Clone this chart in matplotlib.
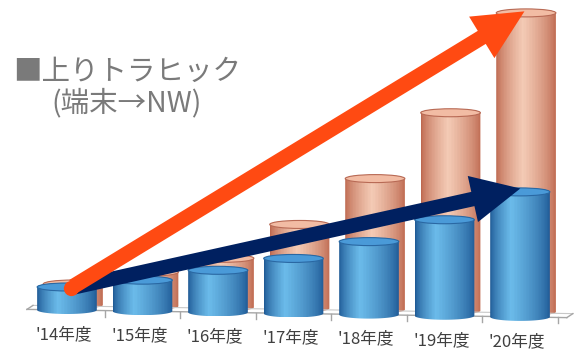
import matplotlib.pyplot as plt
import numpy as np
from matplotlib.patches import Ellipse, Polygon, FancyArrowPatch

plt.rcParams['font.family'] = ['Noto Sans CJK JP', 'DejaVu Sans']

# data (arbitrary units)
years = ["'14年度", "'15年度", "'16年度", "'17年度", "'18年度", "'19年度", "'20年度"]
uplink = [23, 31, 42, 55, 73, 96, 125]        # front (blue)
downlink = [21, 34, 49, 84, 131, 198, 299]    # back (salmon)

# look of the pseudo-3D scene
W = 0.79          # cylinder width (category units)
EH = 8            # ellipse height
BASE = 40         # floor height at first category
SLANT = 1.15      # floor drop per category
BACK_DX, BACK_DY = 0.08, 5


def gradient(edge, mid, n=120, peak=0.38):
    t = np.linspace(0, 1, n)
    w = np.where(t < peak, t / peak, (1 - t) / (1 - peak)) ** 0.7
    edge = np.array(edge) / 255
    mid = np.array(mid) / 255
    img = edge[None, :] * (1 - w[:, None]) + mid[None, :] * w[:, None]
    stripes = 1 - 0.07 * (np.arange(n) % 3 == 0)
    return np.clip(img * stripes[:, None], 0, 1)[None, :, :]


def cylinder(ax, xc, bottom, h, body, cap, capedge, z):
    top = bottom + h
    t = np.linspace(0, np.pi, 60)
    upper = np.c_[xc - W / 2 * np.cos(t), top + EH / 2 * np.sin(t)]
    lower = np.c_[xc + W / 2 * np.cos(t), bottom - EH / 2 * np.sin(t)]
    poly = Polygon(np.vstack([upper, lower]), closed=True, facecolor='none',
                   edgecolor='none', transform=ax.transData)
    ax.add_patch(poly)
    im = ax.imshow(body, extent=[xc - W / 2, xc + W / 2, bottom - EH / 2, top + EH / 2],
                   aspect='auto', zorder=z, interpolation='bilinear')
    im.set_clip_path(poly)
    ax.add_patch(Ellipse((xc, top), W, EH, facecolor=cap, edgecolor=capedge,
                         lw=0.8, zorder=z + 0.1))


fig = plt.figure(figsize=(5.83, 3.5), dpi=100)
ax = fig.add_axes([0, 0, 1, 1])
ax.set_xlim(-0.887, 6.834)
ax.set_ylim(0, 350)
ax.axis('off')

x = np.arange(len(years))
base = BASE - SLANT * x

salmon_img = gradient((194, 106, 80), (250, 208, 186), peak=0.45)
blue_img = gradient((30, 90, 152), (110, 192, 240), peak=0.35)

for i in x:
    cylinder(ax, i + BACK_DX, base[i] + BACK_DY, downlink[i], salmon_img,
             '#f2bca4', '#b86a55', 1)

# floor
fx = np.array([-0.53, 6.62])
fy = BASE - SLANT * fx
ax.plot(fx, fy, color='#a6a6a6', lw=1.0, zorder=2)
ax.plot(fx + 0.08, fy + 4, color='#c8c8c8', lw=0.8, zorder=1.5)
ax.plot([fx[0], fx[0] + 0.08], [fy[0], fy[0] + 4], color='#a6a6a6', lw=1.0, zorder=2)
ax.plot([fx[1], fx[1] + 0.08], [fy[1], fy[1] + 4], color='#a6a6a6', lw=1.0, zorder=2)
for b in np.arange(0.5, 6.6, 1):
    yb = BASE - SLANT * b
    ax.plot([b, b], [yb, yb - 6], color='#a6a6a6', lw=1.0, zorder=2)

for i in x:
    cylinder(ax, i, base[i], uplink[i], blue_img, '#4a9ad8', '#2a68a3', 3)

for i in x:
    ax.text(i - 0.04, base[i] - 25 + 0.1 * i, years[i], ha='center', va='center',
            fontsize=12, color='#404040')

# trend arrows
start = (x[0] + 0.05, base[0] + uplink[0] - 1)
navy = FancyArrowPatch(start, (x[-1] + 0.04, base[-1] + uplink[-1] + 4),
                       arrowstyle='simple,head_length=3.5,head_width=3.4,tail_width=1.05',
                       mutation_scale=10, color='#002060', lw=0, zorder=6)
ax.add_patch(navy)
red = FancyArrowPatch(start, (x[-1] + 0.09, base[-1] + BACK_DY + downlink[-1] + 3),
                      arrowstyle='simple,head_length=3.6,head_width=3.5,tail_width=1.1',
                      mutation_scale=10, color='#ff4a12', lw=0, zorder=7)
ax.add_patch(red)
ax.plot([start[0]], [start[1]], 'o', ms=11, color='#ff4a12', mec='none', zorder=7)

ax.text(0.795, 278, '■上りトラヒック', ha='center', va='center', fontsize=20.5, color='#7a7a7a')
ax.text(0.795, 247, '(端末→NW)', ha='center', va='center', fontsize=20.5, color='#7a7a7a')

plt.savefig('out.png', dpi=100)
